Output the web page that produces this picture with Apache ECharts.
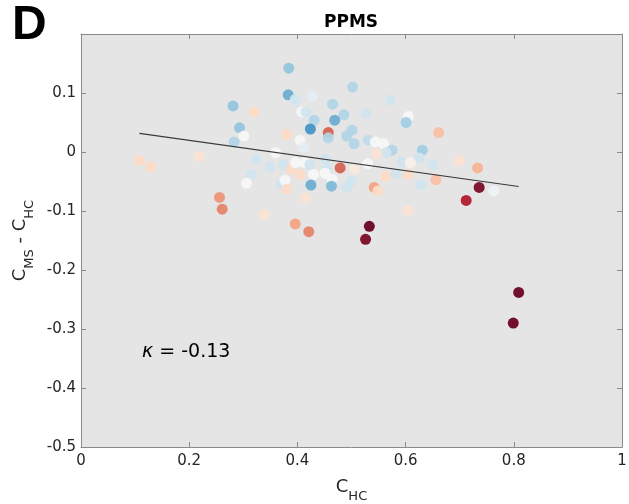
<!DOCTYPE html>
<html><head><meta charset="utf-8">
<script src="https://cdn.jsdelivr.net/npm/echarts@6/dist/echarts.min.js"></script>
<style>html,body{margin:0;padding:0;background:#fff}#c{width:629px;height:504px}</style>
</head><body><div id="c"></div>
<script>
// C_HC values (x)
const cHC = [0.384,0.383,0.396,0.281,0.320,0.428,0.465,0.408,0.416,0.431,
  0.486,0.469,0.293,0.301,0.380,0.424,0.457,0.457,0.501,0.491,
  0.505,0.405,0.412,0.283,0.108,0.129,0.219,0.324,0.349,0.360,
  0.374,0.315,0.306,0.369,0.377,0.380,0.389,0.397,0.414,0.405,
  0.423,0.430,0.425,0.415,0.454,0.451,0.464,0.463,0.479,0.491,
  0.500,0.506,0.452,0.256,0.261,0.339,0.396,0.421,0.533,0.526,
  0.809,0.799,0.605,0.736,0.712,0.763,0.502,0.572,0.527,0.605,
  0.601,0.661,0.531,0.544,0.559,0.575,0.564,0.547,0.631,0.625,
  0.593,0.609,0.651,0.699,0.733,0.530,0.563,0.582,0.605,0.656,
  0.628,0.542,0.549];
// C_MS - C_HC values (y)
const dC = [0.142,0.097,0.089,0.078,0.068,0.094,0.081,0.068,0.068,0.054,
  0.063,0.054,0.041,0.027,0.030,0.039,0.033,0.024,0.037,0.027,
  0.014,0.020,0.008,0.017,-0.014,-0.025,-0.007,-0.012,-0.025,-0.001,
  -0.022,-0.038,-0.053,-0.055,-0.048,-0.063,-0.029,-0.018,-0.018,-0.038,
  -0.021,-0.038,-0.056,-0.078,-0.029,-0.036,-0.046,-0.058,-0.027,-0.060,
  -0.049,-0.029,-0.012,-0.077,-0.097,-0.106,-0.122,-0.135,-0.126,-0.148,
  -0.238,-0.290,-0.099,-0.060,-0.082,-0.066,0.110,0.088,0.065,0.060,
  0.050,0.033,0.020,0.017,0.014,0.003,-0.001,-0.003,0.003,-0.010,
  -0.017,-0.018,-0.022,-0.015,-0.027,-0.020,-0.041,-0.037,-0.038,-0.047,
  -0.056,-0.060,-0.066];
// colour value for each point (-1 blue .. 0 white .. 1 dark red)
const shade = [-0.4,-0.5,-0.2,-0.4,0.2,-0.1,-0.3,0,-0.2,-0.3,
  -0.3,-0.5,-0.4,0,0.2,-0.6,0.6,-0.3,-0.3,-0.3,
  -0.3,0,-0.1,-0.3,0.2,0.2,0.15,-0.2,-0.2,0,
  -0.2,-0.2,0,-0.2,0,0.2,0.2,0,0,0.2,
  -0.2,0,-0.5,0.15,-0.2,0,0,-0.45,0.6,-0.2,
  -0.2,0.1,-0.2,0.45,0.5,0.15,0.4,0.5,1.0,0.95,
  1.0,1.0,0.15,0.95,0.8,-0.05,-0.3,-0.2,-0.2,0,
  -0.35,0.3,-0.25,0,0,-0.3,-0.2,0.15,-0.35,-0.2,
  -0.2,0.05,-0.2,0.15,0.35,0,0.2,-0.2,0.2,0.3,
  -0.2,0.4,0.2];
const fitSlope = -0.1285;
const fitIntercept = 0.0455;
const kappaText = '-0.13';
const titleText = 'PPMS';
const panelLetter = 'D';

const palette = ['#053061','#2166ac','#4393c3','#92c5de','#d1e5f0','#f7f7f7','#fddbc7','#f4a582','#d6604d','#b2182b','#67001f'];
const pts = cHC.map((x,i)=>[x,dC[i],shade[i]]);
const xmin = Math.min(...cHC), xmax = Math.max(...cHC);
const fitLine = [[xmin, fitIntercept+fitSlope*xmin],[xmax, fitIntercept+fitSlope*xmax]];

const FONT = 'DejaVu Sans';
const frame = '#8a8a8a';
const grid = {left:81, right:7, top:34, bottom:57, backgroundColor:'#e5e5e5', show:true, borderWidth:0,
  containLabel:false, outerBoundsMode:'none'};
const baseX = {type:'value', min:0, max:1, interval:0.2, splitLine:{show:false},
  axisLine:{show:true, onZero:false, lineStyle:{color:frame, width:1}},
  axisTick:{show:true, inside:true, length:5, lineStyle:{color:frame}}};
const baseY = {type:'value', min:-0.5, max:0.2, interval:0.1, splitLine:{show:false},
  axisLine:{show:true, onZero:false, lineStyle:{color:frame, width:1}},
  axisTick:{show:true, inside:true, length:5, lineStyle:{color:frame}}};
const fmtY = v => Math.abs(v-0.2)<1e-6 ? '' : String(Math.round(v*10)/10);
const fmtX = v => String(Math.round(v*10)/10);
const nameRich = {m:{fontFamily:FONT, fontSize:18, color:'#262626', lineHeight:25, verticalAlign:'top'},
                  s:{fontFamily:FONT, fontSize:13, color:'#262626', lineHeight:25, verticalAlign:'bottom'}};

const chart = echarts.init(document.getElementById('c'), null, {renderer:'canvas'});
chart.setOption({
  animation:false,
  backgroundColor:'#ffffff',
  grid: grid,
  xAxis:[
    Object.assign({}, baseX, {position:'bottom',
      axisLabel:{fontFamily:FONT, fontSize:15, color:'#262626', margin:7, formatter:fmtX},
      name:'{m|C}{s|HC}', nameLocation:'middle', nameGap:31,
      nameTextStyle:{rich:nameRich}}),
    Object.assign({}, baseX, {position:'top', axisLabel:{show:false}})
  ],
  yAxis:[
    Object.assign({}, baseY, {position:'left',
      axisLabel:{fontFamily:FONT, fontSize:15, color:'#262626', margin:5, formatter:fmtY},
      name:'{m|C}{s|MS}{m| - C}{s|HC}', nameLocation:'middle', nameGap:40, nameRotate:90,
      nameTextStyle:{rich:nameRich}}),
    Object.assign({}, baseY, {position:'right', axisLabel:{show:false}})
  ],
  visualMap:{show:false, type:'continuous', min:-1, max:1, dimension:2, seriesIndex:0,
    inRange:{color:palette}},
  series:[
    {type:'scatter', data:pts, symbol:'circle', symbolSize:11, itemStyle:{opacity:0.93}, z:2},
    {type:'line', data:fitLine, symbol:'none', lineStyle:{color:'#3a3a3a', width:1.2}, z:3, silent:true}
  ],
  graphic:[
    {type:'text', left:12, top:2, style:{text:panelLetter, fontFamily:'Liberation Sans', fontWeight:'bold', fontSize:48, fill:'#000'}},
    {type:'text', x:351, y:14, style:{text:titleText, fontFamily:FONT, fontWeight:'bold', fontSize:17, fill:'#000', textAlign:'center', textVerticalAlign:'top'}},
    {type:'text', left:142, top:343, style:{text:'{k|κ}{t| = '+kappaText+'}',
      rich:{k:{fontFamily:FONT, fontStyle:'italic', fontSize:19, fill:'#000'},
            t:{fontFamily:FONT, fontSize:19, fill:'#000'}}}}
  ]
});
</script></body></html>
